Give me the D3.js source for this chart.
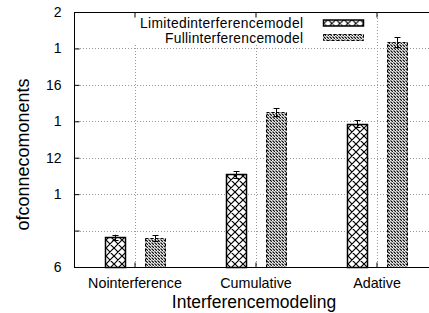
<!DOCTYPE html>
<html>
<head>
<meta charset="utf-8">
<script src="https://cdn.jsdelivr.net/npm/d3@7"></script>
<style>
  body { margin: 0; background: #fff; }
  svg { display: block; font-family: "Liberation Sans", Arial, sans-serif; }
</style>
</head>
<body>
<svg id="chart" width="429" height="313"></svg>
<script>
const CATEGORIES = ["Nointerference", "Cumulative", "Adative"];
const SERIES = ["Limitedinterferencemodel", "Fullinterferencemodel"];
const LIMITED = [7.62, 11.08, 13.86];
const LIMITED_ERR = [0.15, 0.18, 0.2];
const FULL = [7.58, 14.5, 18.35];
const FULL_ERR = [0.16, 0.22, 0.27];
const Y_TICKS = [6, 8, 10, 12, 14, 16, 18, 20];
const Y_TICK_LABELS = ["6", "", "1", "12", "1", "16", "1", "2"];

const margin = { top: 12, bottom: 267, left: 74, right: 437 };

const svg = d3.select("#chart");

const defs = svg.append("defs");

const cross = defs.append("pattern")
  .attr("id", "cross")
  .attr("patternUnits", "userSpaceOnUse")
  .attr("width", 8)
  .attr("height", 8);
cross.append("rect").attr("width", 8).attr("height", 8).attr("fill", "#fff");
cross.append("path")
  .attr("d", "M0,0L8,8M8,0L0,8M-1,7L1,9M7,-1L9,1M-1,1L1,-1M7,9L9,7")
  .attr("stroke", "#000")
  .attr("stroke-width", 1.2);

const hatch = defs.append("pattern")
  .attr("id", "hatch")
  .attr("patternUnits", "userSpaceOnUse")
  .attr("width", 3)
  .attr("height", 3);
hatch.append("rect").attr("width", 3).attr("height", 3).attr("fill", "#fff");
hatch.append("path")
  .attr("d", "M0,0L3,3M-1,2L1,4M2,-1L4,1")
  .attr("stroke", "#000")
  .attr("stroke-width", 1.2)
  .attr("stroke-dasharray", "2.5,1");

const x0 = margin.left;
const x1 = margin.right;
const yTop = margin.top;
const yBottom = margin.bottom;

const x = d3.scaleBand().domain(CATEGORIES).range([x0, x1]);
const xSeries = d3.scaleBand()
  .domain(SERIES)
  .range([x.bandwidth() / 2 - 30, x.bandwidth() / 2 + 30])
  .paddingInner(0.5);

const y = d3.scaleLinear().domain([6, 20]).range([yBottom, yTop]);

// grid
const grid = svg.append("g")
  .attr("stroke", "#999")
  .attr("stroke-width", 1)
  .attr("stroke-dasharray", "1,2");
grid.selectAll(".hgrid")
  .data(Y_TICKS.slice(1, -1))
  .enter()
  .append("line")
  .attr("x1", x0)
  .attr("x2", x1)
  .attr("y1", (d) => Math.round(y(d)) + 0.5)
  .attr("y2", (d) => Math.round(y(d)) + 0.5);
grid.selectAll(".vgrid")
  .data(CATEGORIES)
  .enter()
  .append("line")
  .attr("x1", (d) => Math.round(x(d) + x.bandwidth() / 2) + 0.5)
  .attr("x2", (d) => Math.round(x(d) + x.bandwidth() / 2) + 0.5)
  .attr("y1", yTop)
  .attr("y2", yBottom);

// bars
const groups = svg.selectAll(".group")
  .data(CATEGORIES)
  .enter()
  .append("g")
  .attr("transform", (d) => `translate(${x(d)},0)`);

const barData = (c, i) => [
  { key: SERIES[0], value: LIMITED[i], err: LIMITED_ERR[i] },
  { key: SERIES[1], value: FULL[i], err: FULL_ERR[i] },
];

groups.each(function (c, i) {
  const g = d3.select(this);
  const data = barData(c, i);
  g.selectAll("rect")
    .data(data)
    .enter()
    .append("rect")
    .attr("x", (d) => Math.round(xSeries(d.key)) + 0.5)
    .attr("y", (d) => Math.round(y(d.value)) + 0.5)
    .attr("width", xSeries.bandwidth())
    .attr("height", (d) => Math.round(yBottom) - Math.round(y(d.value)))
    .attr("fill", (d, j) => (j === 0 ? "url(#cross)" : "url(#hatch)"))
    .attr("stroke", "#000")
    .attr("stroke-width", (d, j) => (j === 0 ? 1.5 : 1))
    .attr("stroke-dasharray", (d, j) => (j === 0 ? null : "3,2"));

  const eb = g.selectAll(".err")
    .data(data)
    .enter()
    .append("g")
    .attr("stroke", "#000")
    .attr("stroke-width", 1);
  const cx = (d) => Math.round(xSeries(d.key) + xSeries.bandwidth() / 2) + 0.5;
  eb.append("line")
    .attr("x1", cx).attr("x2", cx)
    .attr("y1", (d) => y(d.value + d.err))
    .attr("y2", (d) => y(d.value - d.err));
  eb.append("line")
    .attr("x1", (d) => cx(d) - 3).attr("x2", (d) => cx(d) + 3)
    .attr("y1", (d) => Math.round(y(d.value + d.err)) + 0.5)
    .attr("y2", (d) => Math.round(y(d.value + d.err)) + 0.5);
  eb.append("line")
    .attr("x1", (d) => cx(d) - 3).attr("x2", (d) => cx(d) + 3)
    .attr("y1", (d) => Math.round(y(d.value - d.err)) + 0.5)
    .attr("y2", (d) => Math.round(y(d.value - d.err)) + 0.5);
});

// legend
const legend = svg.append("g");
legend.append("rect")
  .attr("x", 120).attr("y", 14).attr("width", 250).attr("height", 31)
  .attr("fill", "#fff");
const legendRows = legend.selectAll(".row")
  .data(SERIES)
  .enter()
  .append("g")
  .attr("transform", (d, i) => `translate(0,${19.5 + i * 14.5})`);
legendRows.append("text")
  .attr("x", 303)
  .attr("y", 8.5)
  .attr("text-anchor", "end")
  .attr("font-size", "13.8px")
  .attr("textLength", (d, i) => (i === 0 ? 163 : 138))
  .text((d) => d);
legendRows.append("rect")
  .attr("x", 323.5)
  .attr("y", 0.5)
  .attr("width", 40)
  .attr("height", 6)
  .attr("fill", (d, i) => (i === 0 ? "url(#cross)" : "url(#hatch)"))
  .attr("stroke", "#000")
  .attr("stroke-width", (d, i) => (i === 0 ? 1.5 : 1))
  .attr("stroke-dasharray", (d, i) => (i === 0 ? null : "3,2"));

// axes
const yAxis = d3.axisLeft(y)
  .tickValues(Y_TICKS)
  .tickSize(-5)
  .tickPadding(13)
  .tickFormat((d, i) => Y_TICK_LABELS[i]);
const yAxisG = svg.append("g")
  .attr("transform", `translate(${x0 + 0.5},0)`)
  .call(yAxis);
yAxisG.select(".domain").remove();
yAxisG.selectAll("text").attr("font-size", "14px").attr("fill", "#000")
  .style("font-family", "Liberation Sans, Arial, sans-serif");

const xCenters = d3.scalePoint()
  .domain(CATEGORIES)
  .range([x(CATEGORIES[0]) + x.bandwidth() / 2, x(CATEGORIES[2]) + x.bandwidth() / 2]);
const xAxis = d3.axisBottom(xCenters).tickSize(-5).tickPadding(10);
const xAxisG = svg.append("g")
  .attr("transform", `translate(0,${Math.round(yBottom) + 0.5})`)
  .call(xAxis);
xAxisG.select(".domain").remove();
xAxisG.selectAll("text").attr("font-size", "14.3px").attr("fill", "#000")
  .style("font-family", "Liberation Sans, Arial, sans-serif");

const xTopAxis = d3.axisTop(xCenters).tickSize(-5).tickFormat("");
const xTopG = svg.append("g")
  .attr("transform", `translate(0,${yTop + 0.5})`)
  .call(xTopAxis);
xTopG.select(".domain").remove();

// frame
svg.append("rect")
  .attr("x", x0 + 0.5)
  .attr("y", yTop + 0.5)
  .attr("width", x1 - x0)
  .attr("height", Math.round(yBottom) - yTop)
  .attr("fill", "none")
  .attr("stroke", "#000")
  .attr("stroke-width", 1);

// axis titles
svg.append("text")
  .attr("transform", `translate(29,${(yTop + yBottom) / 2 + 15}) rotate(-90)`)
  .attr("text-anchor", "middle")
  .attr("font-size", "18px")
  .text("ofconnecomonents");
svg.append("text")
  .attr("x", 254)
  .attr("y", 308)
  .attr("text-anchor", "middle")
  .attr("font-size", "17.5px")
  .text("Interferencemodeling");
</script>
</body>
</html>
